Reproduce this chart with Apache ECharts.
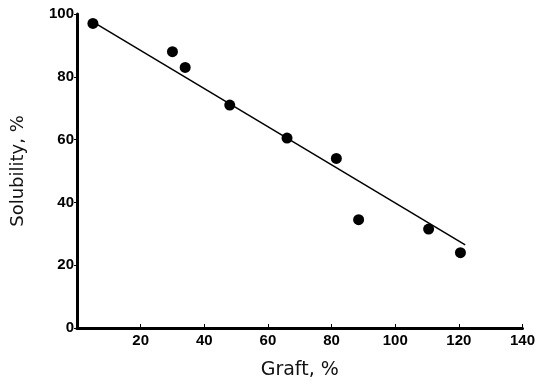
<!DOCTYPE html>
<html>
<head>
<meta charset="utf-8">
<script src="https://cdn.jsdelivr.net/npm/echarts@6/dist/echarts.min.js"></script>
<style>
  html, body { margin: 0; padding: 0; background: #fff; }
  #chart { width: 538px; height: 385px; }
</style>
</head>
<body>
<div id="chart"></div>
<script>
// measured points (graft %, solubility %)
var graft = [5, 30, 34, 48, 66, 81.5, 88.5, 110.5, 120.5];
var solubility = [97, 88, 83, 71, 60.5, 54, 34.5, 31.5, 24];
// fitted line end points
var fitX = [5, 122];
var fitY = [97.5, 26.5];

var chart = echarts.init(document.getElementById("chart"));

var points = graft.map(function (x, i) { return [x, solubility[i]]; });
var fitLine = fitX.map(function (x, i) { return [x, fitY[i]]; });

var option = {
  backgroundColor: "#fff",
  animation: false,
  grid: { left: 77, right: 11, top: 14, bottom: 54 },
  xAxis: {
    type: "value",
    min: 0,
    max: 140,
    interval: 20,
    name: "Graft, %",
    nameLocation: "middle",
    nameGap: 33,
    nameTextStyle: { fontFamily: "DejaVu Sans", fontSize: 19, color: "#111", fontWeight: "normal" },
    axisLine: { lineStyle: { color: "#000", width: 3 } },
    axisTick: { inside: true, length: 4, lineStyle: { color: "#000", width: 1 } },
    splitLine: { show: false },
    axisLabel: {
      color: "#000",
      fontFamily: "Liberation Sans",
      fontWeight: "bold",
      fontSize: 15,
      margin: 5,
      formatter: function (v) { return v === 0 ? "" : v; }
    }
  },
  yAxis: {
    type: "value",
    min: 0,
    max: 100,
    interval: 20,
    name: "Solubility, %",
    nameLocation: "middle",
    nameGap: 50,
    nameTextStyle: { fontFamily: "DejaVu Sans", fontSize: 18, color: "#111", fontWeight: "normal" },
    axisLine: { lineStyle: { color: "#000", width: 3 } },
    axisTick: { length: 3, lineStyle: { color: "#000", width: 1 } },
    splitLine: { show: false },
    axisLabel: {
      color: "#000",
      fontFamily: "Liberation Sans",
      fontWeight: "bold",
      fontSize: 15,
      margin: 3
    }
  },
  series: [
    {
      type: "line",
      data: fitLine,
      showSymbol: false,
      lineStyle: { color: "#000", width: 1.5 },
      z: 1
    },
    {
      type: "scatter",
      data: points,
      symbol: "circle",
      symbolSize: 11,
      itemStyle: { color: "#000", opacity: 1 },
      z: 2
    }
  ]
};

chart.setOption(option);
</script>
</body>
</html>
